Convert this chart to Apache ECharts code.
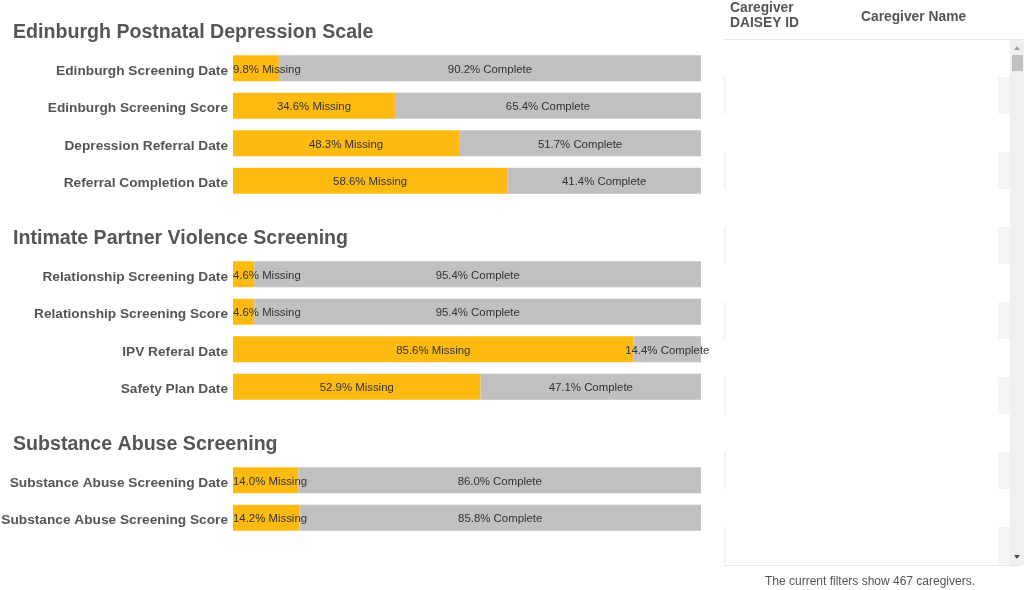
<!DOCTYPE html>
<html>
<head>
<meta charset="utf-8">
<script src="https://cdn.jsdelivr.net/npm/echarts@6/dist/echarts.min.js"></script>
<style>
html,body{margin:0;padding:0;background:#fff;}
#main{width:1024px;height:590px;}
</style>
</head>
<body>
<div id="main"></div>
<script>
// ---- data ----
const sectionTitles = ['Edinburgh Postnatal Depression Scale', 'Intimate Partner Violence Screening', 'Substance Abuse Screening'];
const edinburghFields = ['Edinburgh Screening Date', 'Edinburgh Screening Score', 'Depression Referral Date', 'Referral Completion Date'];
const edinburghMissing = [9.8, 34.6, 48.3, 58.6];
const edinburghComplete = [90.2, 65.4, 51.7, 41.4];
const ipvFields = ['Relationship Screening Date', 'Relationship Screening Score', 'IPV Referal Date', 'Safety Plan Date'];
const ipvMissing = [4.6, 4.6, 85.6, 52.9];
const ipvComplete = [95.4, 95.4, 14.4, 47.1];
const substanceFields = ['Substance Abuse Screening Date', 'Substance Abuse Screening Score'];
const substanceMissing = [14.0, 14.2];
const substanceComplete = [86.0, 85.8];
const tableHeaders = ['Caregiver\nDAISEY ID', 'Caregiver Name'];
const caregiverCount = 467;

// ---- layout ----
const ORANGE = '#FDBB11';
const GRAY = '#C1BFC0';
const TXT = '#555555';
const FONT = '"Liberation Sans", Arial, sans-serif';
const sections = [
  {fields: edinburghFields, missing: edinburghMissing, complete: edinburghComplete, top: 49.5, titleY: 33},
  {fields: ipvFields, missing: ipvMissing, complete: ipvComplete, top: 255.5, titleY: 239},
  {fields: substanceFields, missing: substanceMissing, complete: substanceComplete, top: 461.5, titleY: 445}
];
const BAND = 37.5;
const grids = [], xAxes = [], yAxes = [], series = [], graphics = [];

sections.forEach((s, i) => {
  grids.push({left: 233, width: 468, top: s.top, height: BAND * s.fields.length, containLabel: false, outerBoundsMode: 'none'});
  xAxes.push({gridIndex: i, type: 'value', min: 0, max: 100, show: false});
  yAxes.push({
    gridIndex: i, type: 'category', data: s.fields, inverse: true,
    axisLine: {show: false}, axisTick: {show: false},
    axisLabel: {
      margin: 5,
      formatter: v => '{a|' + v + '}',
      rich: {a: {color: TXT, fontSize: 13.7, fontWeight: 'bold', fontFamily: FONT, padding: [5, 0, 0, 0]}}
    }
  });
  series.push({
    type: 'bar', stack: 's' + i, xAxisIndex: i, yAxisIndex: i, barWidth: 26,
    itemStyle: {color: ORANGE},
    data: s.missing.map(v => ({value: v, label: {position: v < 20 ? 'insideLeft' : 'inside', distance: 0}})),
    label: {show: true, color: '#333', fontSize: 11.4, fontFamily: FONT, offset: [0, 1.5],
      formatter: p => p.value.toFixed(1) + '% Missing'},
    silent: true
  });
  series.push({
    type: 'bar', stack: 's' + i, xAxisIndex: i, yAxisIndex: i, barWidth: 26,
    itemStyle: {color: GRAY},
    data: s.complete,
    label: {show: true, position: 'inside', color: '#333', fontSize: 11.4, fontFamily: FONT, offset: [0, 1.5],
      formatter: p => p.value.toFixed(1) + '% Complete'},
    silent: true
  });
  graphics.push({
    type: 'text', x: 13, y: s.titleY,
    style: {text: sectionTitles[i], fill: TXT, font: 'bold 19.6px ' + FONT, verticalAlign: 'middle'}
  });
});

// right panel (table frame)
const panelG = [];
for (let y = 77; y < 565; y += 75) {
  const h = Math.min(37, 565 - y);
  panelG.push({type: 'rect', shape: {x: 724, y: y, width: 2, height: h}, style: {fill: '#f4f4f4'}});
  panelG.push({type: 'rect', shape: {x: 998, y: y, width: 12, height: h}, style: {fill: '#f5f5f5'}});
}
panelG.push({type: 'line', shape: {x1: 724, y1: 39.5, x2: 1024, y2: 39.5}, style: {stroke: '#e6e6e6', lineWidth: 1}});
panelG.push({type: 'rect', shape: {x: 1010, y: 40, width: 14, height: 525}, style: {fill: '#f0f0f0'}});
panelG.push({type: 'rect', shape: {x: 1012, y: 55, width: 11, height: 16}, style: {fill: '#c1c1c1'}});
panelG.push({type: 'polygon', shape: {points: [[1014, 50], [1020, 50], [1017, 46]]}, style: {fill: '#a3a3a3'}});
panelG.push({type: 'polygon', shape: {points: [[1014, 555], [1020, 555], [1017, 559]]}, style: {fill: '#505050'}});
panelG.push({type: 'line', shape: {x1: 724, y1: 565.5, x2: 1020, y2: 565.5}, style: {stroke: '#e6e6e6', lineWidth: 1}});
panelG.push({type: 'text', x: 730, y: 16, style: {text: tableHeaders[0], fill: TXT, font: 'bold 13.8px ' + FONT, lineHeight: 15, verticalAlign: 'middle'}});
panelG.push({type: 'text', x: 861, y: 17, style: {text: tableHeaders[1], fill: TXT, font: 'bold 13.8px ' + FONT, verticalAlign: 'middle'}});
panelG.push({type: 'text', x: 870, y: 582, style: {text: 'The current filters show ' + caregiverCount + ' caregivers.', fill: TXT, font: '12px ' + FONT, align: 'center', verticalAlign: 'middle'}});

const chart = echarts.init(document.getElementById('main'));
chart.setOption({
  animation: false,
  grid: grids, xAxis: xAxes, yAxis: yAxes, series: series,
  graphic: graphics.concat(panelG)
});
</script>
</body>
</html>
